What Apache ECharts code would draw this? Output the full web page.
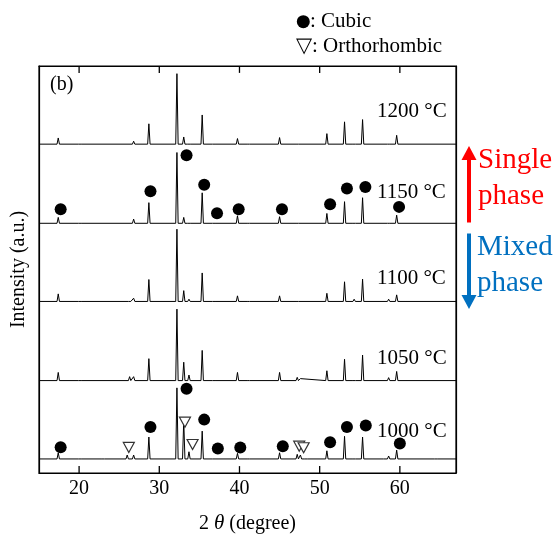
<!DOCTYPE html>
<html>
<head>
<meta charset="utf-8">
<script src="https://cdn.jsdelivr.net/npm/echarts@6/dist/echarts.min.js"></script>
<style>
html,body{margin:0;padding:0;background:#fff;}
#chart{width:559px;height:539px;}
</style>
</head>
<body>
<div id="chart"></div>
<script>
// ---- data ----
var temps = ['1000', '1050', '1100', '1150', '1200'];
// peak lists: [2theta, height above trace baseline]
var peaks1000 = [[17.4,6.3],[20.1,1.3],[23.0,1],[26.0,4],[26.8,4],[28.7,22.3],[32.2,72.3],[33.05,39],[33.7,7.3],[35.35,28.3],[36.8,2],[39.75,5.7],[41.1,1],[45.0,6.3],[47.2,4.7],[47.6,4],[48.3,1.5],[50.9,8.3],[53.1,23],[54.3,2],[55.35,22.3],[57.8,2],[58.6,3],[59.6,9],[64.5,1]];
var peaks1050 = [[17.4,8.3],[20.1,1.3],[26.3,4],[26.8,4],[28.7,22.3],[32.2,72.7],[33.05,18.7],[33.7,5.7],[35.35,30.7],[36.8,1.7],[39.75,8.3],[41.1,1],[45.0,8.3],[47.2,3.3],[47.6,2],[50.9,10],[53.1,21.7],[54.3,2],[55.35,26],[58.6,3],[59.6,9.3]];
var peaks1100 = [[17.4,7.7],[20.1,1.7],[26.3,1.3],[26.8,3.3],[28.7,22.3],[32.2,73.5],[33.05,11],[33.7,2.3],[35.35,29],[36.8,1.7],[39.75,5.7],[41.1,1],[45.0,5.7],[47.2,1.7],[50.9,8.3],[53.1,20],[54.3,2.3],[55.35,22.7],[58.6,2.3],[59.6,6.7]];
var peaks1150 = [[17.4,6],[20.1,1],[26.8,4.3],[28.7,21],[32.2,72],[33.05,6],[33.7,1.5],[35.35,31],[36.8,1.5],[39.75,7.7],[41.1,1],[45.0,6.7],[47.2,1.3],[50.9,10],[53.1,22],[54.3,2],[55.35,26],[58.6,1.5],[59.6,8.3]];
var peaks1200 = [[17.4,6.3],[20.1,1.3],[26.8,3],[28.7,20.7],[32.2,71.7],[33.05,7.3],[33.7,1.7],[35.35,29.7],[36.8,1.7],[39.75,5.7],[41.1,1],[45.0,6.7],[47.2,1.3],[50.9,10.7],[53.1,22.7],[54.3,1.7],[55.35,25],[58.6,1],[59.6,9]];
// vertical offset of each trace (stacking, a.u.)
var offsets = [14.3, 94, 174.5, 254, 334.5];
// phase markers [2theta, intensity a.u.]
var cubic1000 = [[17.7,26.3],[28.9,46.7],[33.4,85.7],[35.6,54.3],[37.3,25],[40.1,26],[45.4,27.3],[51.3,31.3],[53.4,46.7],[55.75,48.3],[60.0,30]];
var cubic1150 = [[17.7,268.3],[28.9,286.7],[33.4,323.3],[35.6,293.3],[37.2,264.3],[39.9,268.3],[45.3,268.3],[51.3,273.3],[53.4,289.3],[55.7,291],[59.9,270.7]];
var ortho1000 = [[26.2,26],[33.2,51.7],[34.15,29],[47.45,27.3],[48.0,25.7]];
var xTicks = [20, 30, 40, 50, 60];
var Y_MIN = 0, Y_MAX = 414;

// ---- build ----
var allPeaks = [peaks1000, peaks1050, peaks1100, peaks1150, peaks1200];
var HW = 0.15;
function trace(pk, off) {
  var d = [[15, off]];
  pk.forEach(function (p) {
    d.push([p[0] - HW, off]);
    d.push([p[0], off + p[1]]);
    d.push([p[0] + HW, off]);
  });
  d.push([67, off]);
  return d;
}
var FONT = 'Liberation Serif';
var series = allPeaks.map(function (pk, i) {
  return {
    type: 'line', name: temps[i], data: trace(pk, offsets[i]),
    showSymbol: false, symbol: 'none', silent: true,
    lineStyle: { color: '#000', width: 1 }, z: 2
  };
});
series.push({
  type: 'scatter', data: cubic1000.concat(cubic1150), symbol: 'circle', symbolSize: 12,
  itemStyle: { color: '#000', opacity: 1 }, z: 5, silent: true
});
series.push({
  type: 'scatter', data: ortho1000, symbol: 'triangle', symbolRotate: 180, symbolSize: [11, 10],
  itemStyle: { color: '#fff', borderColor: '#333', borderWidth: 1.2, opacity: 1 }, z: 6, silent: true
});
// inward tick marks (bottom and top frame) at the tick values, 7 a.u. long
var TICK_LEN = 7;
xTicks.forEach(function (v) {
  [[[v, Y_MIN], [v, Y_MIN + TICK_LEN]], [[v, Y_MAX], [v, Y_MAX - TICK_LEN]]].forEach(function (seg) {
    series.push({
      type: 'line', data: seg, showSymbol: false, symbol: 'none', silent: true, clip: false,
      lineStyle: { color: '#000', width: 1.3 }, z: 8
    });
  });
});

// temperature labels
var labelY = [433, 360, 280, 193.5, 113];
var graphics = temps.map(function (t, i) {
  return { type: 'text', left: 377, top: labelY[i] - 12, style: { text: t + ' \u00B0C', font: '21px ' + FONT, fill: '#000' }, z: 10 };
});
graphics.push({ type: 'text', left: 50, top: 75, style: { text: '(b)', font: '20px ' + FONT, fill: '#000' } });
graphics.push({ type: 'circle', shape: { cx: 303.3, cy: 21.7, r: 6.5 }, style: { fill: '#000' } });
graphics.push({ type: 'text', left: 310, top: 11, style: { text: ': Cubic', font: '21px ' + FONT, fill: '#000' } });
graphics.push({ type: 'text', left: 296, top: 36, style: { text: '\u25BD: Orthorhombic', font: '21px ' + FONT, fill: '#000' } });
// arrows
graphics.push({ type: 'line', shape: { x1: 469, y1: 222.5, x2: 469, y2: 158 }, style: { stroke: '#ff0000', lineWidth: 4 } });
graphics.push({ type: 'polygon', shape: { points: [[469, 146], [461.5, 160], [476.5, 160]] }, style: { fill: '#ff0000' } });
graphics.push({ type: 'line', shape: { x1: 469, y1: 233.5, x2: 469, y2: 297 }, style: { stroke: '#0070c0', lineWidth: 4 } });
graphics.push({ type: 'polygon', shape: { points: [[469, 309], [461.5, 295], [476.5, 295]] }, style: { fill: '#0070c0' } });
graphics.push({ type: 'text', left: 478, top: 146, style: { text: 'Single', font: '29px ' + FONT, fill: '#ff0000' } });
graphics.push({ type: 'text', left: 478, top: 182, style: { text: 'phase', font: '29px ' + FONT, fill: '#ff0000' } });
graphics.push({ type: 'text', left: 477, top: 233, style: { text: 'Mixed', font: '29px ' + FONT, fill: '#0070c0' } });
graphics.push({ type: 'text', left: 477, top: 269, style: { text: 'phase', font: '29px ' + FONT, fill: '#0070c0' } });

var chart = echarts.init(document.getElementById('chart'), null, { renderer: 'canvas' });
chart.setOption({
  animation: false,
  backgroundColor: '#fff',
  grid: { left: 39, right: 103, top: 66, bottom: 59, show: true, borderColor: '#000', borderWidth: 1.2, backgroundColor: 'transparent' },
  xAxis: [{
    type: 'value', min: 15, max: 67, position: 'bottom',
    name: '2 {th|\u03B8} (degree)', nameLocation: 'middle', nameGap: 40,
    nameTextStyle: { fontFamily: FONT, fontSize: 20, color: '#000', rich: { th: { fontFamily: FONT, fontStyle: 'italic', fontSize: 21, color: '#000' } } },
    axisLine: { show: true, onZero: false, lineStyle: { color: '#000', width: 1.2 } },
    axisTick: { show: false },
    axisLabel: { show: true, customValues: xTicks, margin: 6, fontFamily: FONT, fontSize: 20, color: '#000' },
    splitLine: { show: false }
  }, {
    type: 'value', min: 15, max: 67, position: 'top',
    axisLine: { show: true, onZero: false, lineStyle: { color: '#000', width: 1.2 } },
    axisTick: { show: false }, axisLabel: { show: false }, splitLine: { show: false }
  }],
  yAxis: [{
    type: 'value', min: Y_MIN, max: Y_MAX, position: 'left',
    name: 'Intensity (a.u.)', nameLocation: 'middle', nameGap: 10, nameRotate: 90,
    nameTextStyle: { fontFamily: FONT, fontSize: 20, color: '#000' },
    axisLine: { show: true, onZero: false, lineStyle: { color: '#000', width: 1.2 } },
    axisTick: { show: false }, axisLabel: { show: false }, splitLine: { show: false }
  }, {
    type: 'value', min: Y_MIN, max: Y_MAX, position: 'right',
    axisLine: { show: true, onZero: false, lineStyle: { color: '#000', width: 1.2 } },
    axisTick: { show: false }, axisLabel: { show: false }, splitLine: { show: false }
  }],
  series: series,
  graphic: graphics
});
</script>
</body>
</html>
